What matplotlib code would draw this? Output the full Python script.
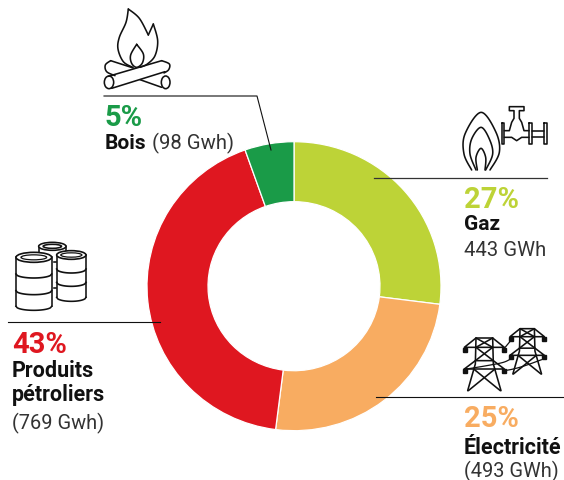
import numpy as np
import matplotlib
matplotlib.use('Agg')
import matplotlib.pyplot as plt
from matplotlib.patches import Ellipse

W, H = 564, 481

# data, clockwise from the top
names = ['Gaz', 'Électricité', 'Produits pétroliers', 'Bois']
shares = [27, 25, 42.6, 5.4]
colors = ['#BDD337', '#F8AC61', '#DF1720', '#1A9B48']

plt.rcParams['font.family'] = ['Roboto', 'DejaVu Sans']
fig = plt.figure(figsize=(W / 100, H / 100), dpi=100)

# donut is a bit squashed in the source: 147 px wide radius, 144.5 px tall
cx, cy, Rx, Ry = 294, 287.2, 147, 144.5
ax = fig.add_axes([(cx - Rx) / W, 1 - (cy + Ry) / H, 2 * Rx / W, 2 * Ry / H])
ax.pie(shares, colors=colors, startangle=90, counterclock=False, radius=1,
       wedgeprops=dict(width=0.415, edgecolor='white', linewidth=0.9))
ax.set_aspect('auto')
ax.set_xlim(-1, 1)
ax.set_ylim(-1, 1)

# overlay in pixel coords for lines, icons and text
ov = fig.add_axes([0, 0, 1, 1])
ov.set_xlim(0, W)
ov.set_ylim(H, 0)
ov.axis('off')
ov.patch.set_alpha(0)

# leader lines
ov.plot([104, 257, 271], [97, 97, 151], color='#111111', lw=0.8)
ov.plot([374, 547], [179, 179], color='#333333', lw=0.9)
ov.plot([8, 160], [323, 323], color='#111111', lw=0.8)
ov.plot([376, 563], [398, 398], color='#111111', lw=0.8)


def smooth(pts, n=12):
    # catmull-rom through the points
    p = np.array(pts, float)
    p = np.vstack([p[0], p, p[-1]])
    out = []
    for i in range(1, len(p) - 2):
        for t in np.linspace(0, 1, n, endpoint=False):
            out.append(0.5 * (2 * p[i] + (p[i + 1] - p[i - 1]) * t
                              + (2 * p[i - 1] - 5 * p[i] + 4 * p[i + 1] - p[i + 2]) * t ** 2
                              + (3 * p[i] - p[i - 1] - 3 * p[i + 1] + p[i + 2]) * t ** 3))
    out.append(p[-2])
    return np.array(out)


def draw(pts, ox, oy, curved=False, lw=1.15):
    # pts are in 3x zoom coordinates
    a = smooth(pts) if curved else np.array(pts, float)
    ov.plot(ox + a[:, 0] / 3, oy + a[:, 1] / 3, color='#111111', lw=lw,
            solid_capstyle='round', solid_joinstyle='round')


def ell(x, y, w, h, ox, oy, lw=1.15, fc='white', z=3):
    ov.add_patch(Ellipse((ox + x / 3, oy + y / 3), w / 3, h / 3, fc=fc, ec='#111111', lw=lw, zorder=z))


# fire icon
ox, oy = 90, 0
draw([(115, 30), (108, 70), (88, 115), (84, 150), (100, 188), (128, 205)], ox, oy, True)
draw([(115, 30), (148, 58), (175, 108)], ox, oy, True)
draw([(175, 108), (190, 75)], ox, oy)
draw([(190, 75), (203, 125), (195, 170), (172, 195), (150, 205)], ox, oy, True)
draw([(140, 136), (122, 168), (125, 193), (140, 205), (157, 192), (160, 165), (140, 136)], ox, oy, True)
draw([(62, 185), (46, 198), (50, 218), (75, 230)], ox, oy, True)
draw([(62, 185), (130, 207)], ox, oy)
draw([(150, 242), (215, 265)], ox, oy)
draw([(215, 185), (238, 195), (236, 212), (222, 222)], ox, oy, True)
draw([(215, 185), (55, 232)], ox, oy)
draw([(225, 218), (65, 268)], ox, oy)
ell(57, 250, 28, 38, ox, oy, z=1)
ell(227, 250, 26, 38, ox, oy, z=1)

# gas icon
ox, oy = 370, 90
draw([(305, 243), (282, 195), (285, 135), (333, 70), (378, 130), (388, 190), (360, 243)], ox, oy, True)
draw([(318, 243), (300, 195), (305, 150), (333, 115), (358, 150), (368, 195), (347, 243)], ox, oy, True)
draw([(322, 243), (318, 205), (333, 178), (347, 205), (345, 243)], ox, oy, True)
for x0, x1 in [(396, 403), (477, 486), (522, 531)]:
    draw([(x0, 102), (x1, 102), (x1, 165), (x0, 165), (x0, 102)], ox, oy)
draw([(403, 125), (418, 125), (425, 100), (432, 88), (432, 65), (418, 65), (418, 53),
      (462, 53), (462, 65), (448, 65), (448, 88), (455, 100), (462, 125), (477, 125)], ox, oy)
draw([(403, 145), (425, 145), (440, 155), (455, 145), (477, 145)], ox, oy)
draw([(486, 125), (522, 125)], ox, oy)
draw([(486, 145), (522, 145)], ox, oy)

# barrels icon
ox, oy = 0, 230
draw([(118, 70), (118, 50)], ox, oy)
draw([(197, 70), (197, 50)], ox, oy)
draw([(155, 100), (170, 100)], ox, oy)
draw([(155, 178), (170, 178)], ox, oy)
ell(157, 52, 82, 24, ox, oy, z=2)
ell(157, 52, 55, 12, ox, oy, z=2)
for x0, x1, ytop, ybot, ribs, w, h in [(48, 155, 85, 232, (135, 185), 107, 30),
                                       (170, 258, 78, 205, (120, 160), 88, 26)]:
    xs = np.linspace(x0, x1, 30)
    arc = np.sqrt(np.clip(1 - ((xs - (x0 + x1) / 2) / ((x1 - x0) / 2)) ** 2, 0, 1)) * 12
    ov.fill_between(np.r_[x0, x1] / 3, (ytop / 3 + oy), (ybot / 3 + oy), color='white', zorder=3)
    ov.plot(xs / 3, oy + (ybot + arc) / 3, color='#111111', lw=1.15, zorder=4)
    for r in ribs:
        ov.plot(xs / 3, oy + (r + arc) / 3, color='#111111', lw=1.2, zorder=4)
    ov.plot([x0 / 3, x0 / 3], [oy + ytop / 3, oy + ybot / 3], color='#111111', lw=1.15, zorder=4)
    ov.plot([x1 / 3, x1 / 3], [oy + ytop / 3, oy + ybot / 3], color='#111111', lw=1.15, zorder=4)
    ell((x0 + x1) / 2, ytop, w, h, ox, oy, lw=1.2, z=5)
    ell((x0 + x1) / 2, ytop, w * 0.72, h * 0.5, ox, oy, lw=0.9, z=5)

# pylons icon
ox, oy = 370, 320


def pylon(dx, dy, s):
    # drawn around the left pylon, scaled
    def P(pts):
        return [(dx + x * s, dy + y * s) for x, y in pts]
    draw(P([(10, 215), (33, 135), (35, 57), (85, 57), (87, 135), (110, 215)]), ox, oy)
    draw(P([(35, 57), (0, 85), (120, 85), (85, 57)]), ox, oy)
    draw(P([(0, 150), (33, 125), (87, 125), (120, 150), (0, 150)]), ox, oy)
    draw(P([(35, 85), (87, 125)]), ox, oy)
    draw(P([(85, 85), (33, 125)]), ox, oy)
    draw(P([(35, 57), (85, 85)]), ox, oy)
    draw(P([(85, 57), (35, 85)]), ox, oy)
    draw(P([(28, 150), (108, 215)]), ox, oy)
    draw(P([(92, 150), (12, 215)]), ox, oy)
    for x, y in [(2, 92), (118, 92), (2, 155), (118, 155)]:
        ov.plot(ox + (dx + x * s) / 3, oy + (dy + y * s) / 3, 's', color='#111111', ms=3.2)


pylon(283, 0, 1.0)
pylon(420, -20, 0.86)
draw([(403, 88), (422, 65)], ox, oy, lw=0.9)
draw([(403, 155), (430, 150), (465, 140), (515, 122)], ox, oy, True, lw=0.9)
draw([(290, 150), (350, 140), (400, 130), (425, 118)], ox, oy, True, lw=0.9)

# labels: (x, baseline, text, size, weight, colour)
labels = [
    (105, 126, '5%', 21, 'bold', colors[3]),
    (105, 149, 'Bois', 15, 'bold', '#111111'),
    (464, 208, '27%', 21, 'bold', colors[0]),
    (464, 230, 'Gaz', 15, 'bold', '#111111'),
    (464, 256, '443 GWh', 14.6, 'normal', '#333333'),
    (12, 353, '43%', 21, 'bold', colors[2]),
    (12, 377, 'Produits', 15.5, 'bold', '#111111'),
    (12, 401, 'pétroliers', 15.5, 'bold', '#111111'),
    (12, 429, '(769 Gwh)', 14.4, 'normal', '#333333'),
    (464, 427, '25%', 21, 'bold', colors[1]),
    (464, 454, 'Électricité', 15.5, 'bold', '#111111'),
    (464, 477, '(493 GWh)', 14.4, 'normal', '#333333'),
    (152, 149, '(98 Gwh)', 14.6, 'normal', '#333333'),
]
for x, y, s, size, weight, col in labels:
    ov.text(x, y, s, fontsize=size, fontweight=weight, color=col, va='baseline', ha='left', zorder=6)

fig.savefig('out.png', dpi=100)
